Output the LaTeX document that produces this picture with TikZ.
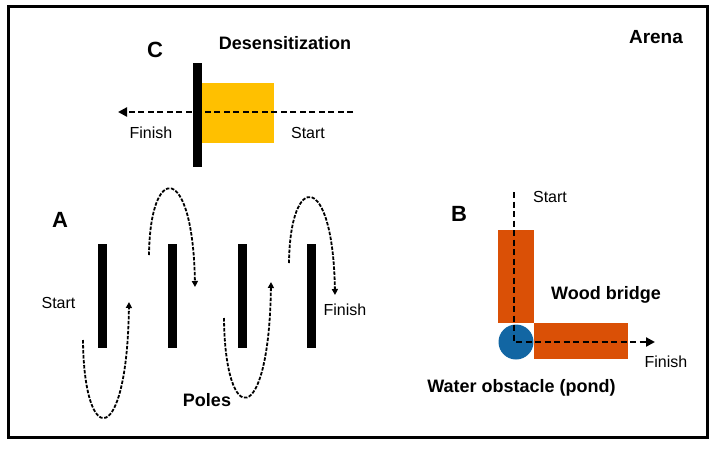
\documentclass[tikz,border=0pt]{standalone}
\usepackage{fontspec}
\setmainfont{Liberation Sans}
\usetikzlibrary{arrows.meta}
\definecolor{ybox}{RGB}{255,192,0}
\definecolor{obox}{RGB}{218,80,6}
\definecolor{pond}{RGB}{18,102,163}
\begin{document}
\begin{tikzpicture}[x=1pt,y=-1pt,
  lbl/.style={font=\fontsize{16}{18}\selectfont,inner sep=0pt},
  ttl/.style={font=\fontsize{18}{20}\selectfont\bfseries,inner sep=0pt},
  big/.style={font=\fontsize{22}{24}\selectfont\bfseries,inner sep=0pt},
  pole/.style={fill=black,draw=none},
  path/.style={line width=2.2pt,dash pattern=on 6pt off 3.5pt},
  cpath/.style={line width=1.8pt,dash pattern=on 3.5pt off 1.5pt,-{Triangle[length=6pt,width=6pt]}},
  sarrow/.style={-{Triangle[length=9pt,width=9pt]}}]
\useasboundingbox (0,0) rectangle (713,448);
\draw[line width=3pt] (8,6) rectangle (707,437);
% Arena
\node[ttl,font=\fontsize{19}{21}\selectfont\bfseries] (arena) at (656,37) {Arena};
% C
\node[big] (C) at (155,50) {C};
\node[ttl] (des) at (285,43) {Desensitization};
\fill[ybox] (202,83) rectangle (274,143);
\node[pole,minimum width=9pt,minimum height=104pt,inner sep=0pt] (bar) at (197.5,115) {};
\coordinate (cs) at (353,112);
\coordinate (cf) at (118,112);
\draw[path,sarrow] (cs) -- (cf);
\node[lbl] (cfin) at (151,133) {Finish};
\node[lbl] (cst) at (308,133) {Start};
% A
\node[big] (A) at (60,220) {A};
\foreach \i/\x in {1/102.5,2/172.5,3/242.5,4/311.5}
  \node[pole,minimum width=9pt,minimum height=104pt,inner sep=0pt] (p\i) at (\x,296) {};
\node[lbl] (ast) at (58.5,303) {Start};
\node[lbl] (afin) at (345,310) {Finish};
\node[ttl] (poles) at (207,400) {Poles};
\coordinate (a1) at (83,340);
\coordinate (b1) at (129,302);
\draw[cpath] (a1) .. controls (84,449) and (127,449) .. (b1);
\coordinate (a2) at (149,255);
\coordinate (b2) at (195,287);
\draw[cpath] (a2) .. controls (150,162) and (193,162) .. (b2);
\coordinate (a3) at (224,318);
\coordinate (b3) at (271,282);
\draw[cpath] (a3) .. controls (225,429) and (269,429) .. (b3);
\coordinate (a4) at (289,263);
\coordinate (b4) at (335,295);
\draw[cpath] (a4) .. controls (290,171) and (333,171) .. (b4);
% B
\node[big] (B) at (459,214) {B};
\fill[obox] (498,230) rectangle (534,323);
\fill[obox] (534,323) rectangle (628,359);
\node[circle,fill=pond,minimum size=35pt,inner sep=0pt] (pond) at (516,342) {};
\coordinate (bs) at (514,192);
\coordinate (bc) at (514,342);
\coordinate (bf) at (655,342);
\draw[path,sarrow] (bs) -- (bc) -- (bf);
\node[lbl] (bst) at (550,197) {Start};
\node[ttl] (wood) at (606,295) {Wood bridge};
\node[lbl] (bfin) at (666,362) {Finish};
\node[ttl] (water) at (521.5,388) {Water obstacle (pond)};
\end{tikzpicture}
\end{document}
